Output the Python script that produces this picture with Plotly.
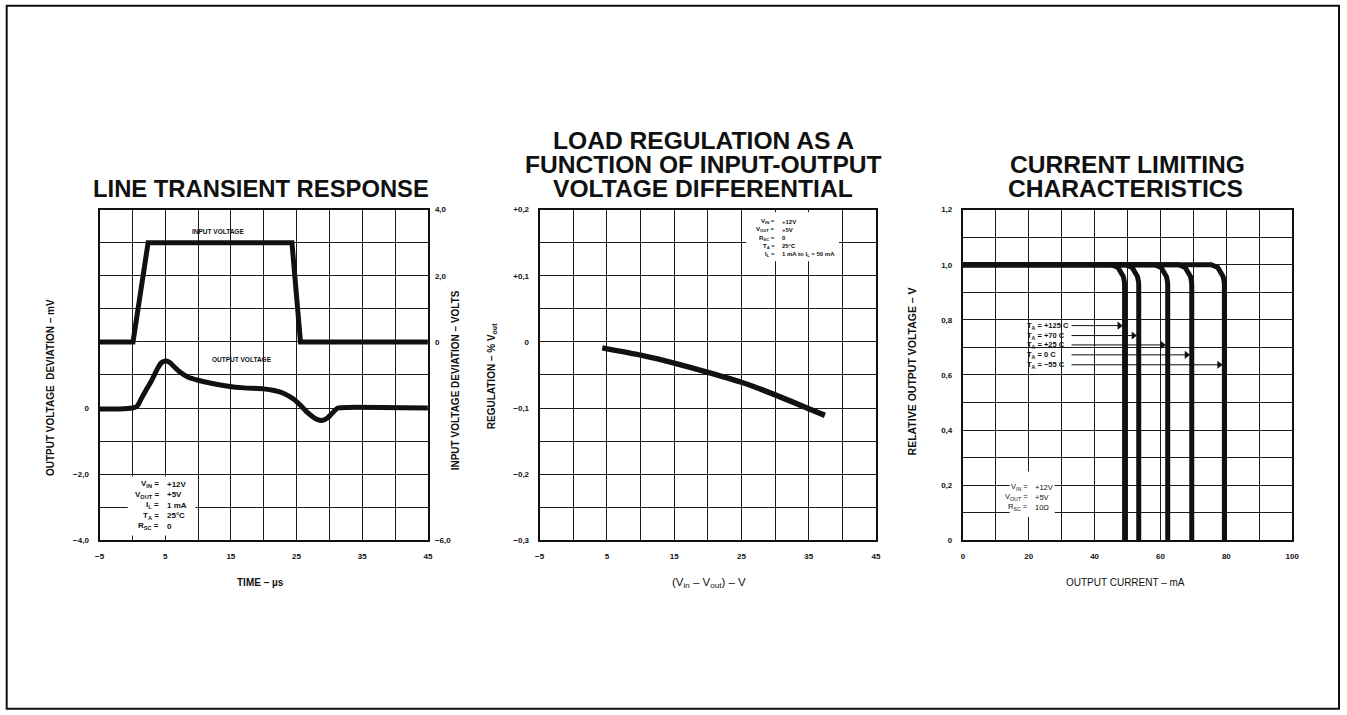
import plotly.graph_objects as go

W, H = 1347, 715

# ---------------- data: panel 1 (line transient response) ----------------
time_input_us = [-5, 0.1, 2.4, 24.3, 25.6, 45]
input_dev_v = [0, 0, 3.0, 3.0, 0, 0]
time_output_us = [-5, -2, 0, 0.7, 1.4, 2.1, 2.9, 3.9, 4.5, 5.2, 5.8, 6.4, 7.3, 8.5, 10, 12,
                  14.6, 17, 20, 21.6, 23, 24.7, 26, 26.7, 27.5, 28.2, 29, 29.7, 30.3, 31.3, 33, 45]
output_dev_mv = [-0.03, -0.03, 0.0, 0.05, 0.3, 0.55, 0.82, 1.22, 1.38, 1.42, 1.36, 1.24, 1.08, 0.93,
                 0.84, 0.75, 0.66, 0.61, 0.58, 0.53, 0.45, 0.25, 0.0, -0.14, -0.27, -0.35, -0.37,
                 -0.3, -0.18, 0.0, 0.02, 0.0]
p1_x_grid = [-5, 0, 5, 10, 15, 20, 25, 30, 35, 40, 45]
p1_x_vals = [-5, 5, 15, 25, 35, 45]
p1_x_text = ["−5", "5", "15", "25", "35", "45"]
p1_yl_grid = [-4, -3, -2, -1, 0, 1, 2, 3, 4, 5, 6]
p1_yl_vals = [-4, -2, 0]
p1_yl_text = ["−4,0", "−2,0", "0"]
p1_yr_vals = [4, 2, 0, -6]
p1_yr_text = ["4,0", "2,0", "0", "−6,0"]
p1_param_names = ["V<sub>IN</sub> =", "V<sub>OUT</sub> =", "I<sub>L</sub> =", "T<sub>A</sub> =", "R<sub>SC</sub> ="]
p1_param_vals = ["+12V", "+5V", "1 mA", "25°C", "0"]

# ---------------- data: panel 2 (load regulation) ----------------
vdiff_v = [4.3, 10, 15, 20, 25, 30, 35, 37.4]
regulation_pct = [-0.009, -0.020, -0.032, -0.046, -0.061, -0.080, -0.101, -0.111]
p2_x_grid = p1_x_grid
p2_x_vals = p1_x_vals
p2_x_text = p1_x_text
p2_y_grid = [-0.3, -0.25, -0.2, -0.15, -0.1, -0.05, 0, 0.05, 0.1, 0.15, 0.2]
p2_y_vals = [-0.3, -0.2, -0.1, 0, 0.1, 0.2]
p2_y_text = ["−0,3", "−0,2", "−0,1", "0", "+0,1", "+0,2"]
p2_param_names = ["V<sub>IN</sub> =", "V<sub>OUT</sub> =", "R<sub>SC</sub> =", "T<sub>A</sub> =", "I<sub>L</sub> ="]
p2_param_vals = ["+12V", "+5V", "0", "25°C", "1 mA to I<sub>L</sub> = 50 mA"]

# ---------------- data: panel 3 (current limiting) ----------------
i_p125 = [0, 45.1, 47.1, 48.16, 48.72, 49.04, 49.1, 49.1]
i_p70 = [0, 49.4, 51.4, 52.46, 53.02, 53.34, 53.4, 53.4]
i_p25 = [0, 58.2, 60.2, 61.26, 61.82, 62.14, 62.2, 62.2]
i_0 = [0, 65.5, 67.5, 68.56, 69.12, 69.44, 69.5, 69.5]
i_m55 = [0, 75.4, 77.4, 78.46, 79.02, 79.34, 79.4, 79.4]
v_rel = [1.0, 1.0, 0.99, 0.973, 0.957, 0.938, 0.925, 0.0]
temp_labels = ["+125 C", "+70 C", "+25 C", "0 C", "−55 C"]
label_v = [0.779, 0.743, 0.709, 0.673, 0.637]
arrow_tip_ma = [48.4, 52.7, 61.5, 68.8, 78.7]
arrow_tail_ma = [33, 33, 33, 33, 33]
label_x_ma = 18.8
p3_x_grid = [0, 10, 20, 30, 40, 50, 60, 70, 80, 90, 100]
p3_x_vals = [0, 20, 40, 60, 80, 100]
p3_x_text = ["0", "20", "40", "60", "80", "100"]
p3_y_grid = [0, 0.1, 0.2, 0.3, 0.4, 0.5, 0.6, 0.7, 0.8, 0.9, 1.0, 1.1, 1.2]
p3_y_vals = [0, 0.2, 0.4, 0.6, 0.8, 1.0, 1.2]
p3_y_text = ["0", "0,2", "0,4", "0,6", "0,8", "1,0", "1,2"]
p3_param_names = ["V<sub>IN</sub> =", "V<sub>OUT</sub> =", "R<sub>SC</sub> ="]
p3_param_vals = ["+12V", "+5V", "10Ω"]

FONT = "Liberation Sans, Arial, sans-serif"
INK = "#111111"
GRID = "#1c1c1c"

# small correction for the way the page is photographed (observed ~0.99 scale, ~3 px offset)
SX, OX = 0.993, 3.3
SY, OY = 0.988, 3.3


def px(x):
    return min(max(((x - OX) / SX) / W, 0.0), 1.0)


def py(y):
    return min(max(1 - ((y - OY) / SY) / H, 0.0), 1.0)


fig = go.Figure()

# panel 1 traces
fig.add_trace(go.Scatter(x=time_input_us, y=input_dev_v, xaxis="x", yaxis="y2", mode="lines",
                         line=dict(color=INK, width=5), showlegend=False))
fig.add_trace(go.Scatter(x=time_output_us, y=output_dev_mv, xaxis="x", yaxis="y", mode="lines",
                         line=dict(color=INK, width=5, shape="spline", smoothing=0.6), showlegend=False))
# panel 2 trace
fig.add_trace(go.Scatter(x=vdiff_v, y=regulation_pct, xaxis="x2", yaxis="y3", mode="lines",
                         line=dict(color=INK, width=5.5, shape="spline", smoothing=0.5), showlegend=False))
# panel 3 traces
for cx in [i_p125, i_p70, i_p25, i_0, i_m55]:
    fig.add_trace(go.Scatter(x=cx, y=v_rel, xaxis="x3", yaxis="y4", mode="lines",
                             line=dict(color=INK, width=5), showlegend=False))
for tail, tip, yv in zip(arrow_tail_ma, arrow_tip_ma, label_v):
    fig.add_trace(go.Scatter(x=[tail, tip], y=[yv, yv], xaxis="x3", yaxis="y4", mode="lines",
                             line=dict(color=INK, width=1), showlegend=False))
fig.add_trace(go.Scatter(x=[t - 0.9 for t in arrow_tip_ma], y=label_v, xaxis="x3", yaxis="y4",
                         mode="markers", marker=dict(symbol="triangle-right", size=7, color=INK),
                         showlegend=False))


def axis(domain, grid, vals, texts, rng, anchor):
    return dict(domain=domain, range=rng, anchor=anchor, tickmode="array", tickvals=vals,
                ticktext=texts, showgrid=True, gridcolor=GRID, gridwidth=1.3, zeroline=False,
                minor=dict(tickmode="array", tickvals=grid, showgrid=True, gridcolor=GRID,
                           gridwidth=1.3, ticks=""),
                showline=True, mirror=True, linecolor=INK, linewidth=2, ticks="", ticklabelstandoff=7,
                tickfont=dict(family=FONT, size=8, color=INK, weight="bold"), fixedrange=True)


ydom = [py(540), py(209)]
layout = dict(
    width=W, height=H, margin=dict(l=0, r=0, t=0, b=0), paper_bgcolor="white", plot_bgcolor="white",
    showlegend=False,
    xaxis=axis([px(98), px(427)], p1_x_grid, p1_x_vals, p1_x_text, [-5, 45], "y"),
    yaxis=axis(ydom, p1_yl_grid, p1_yl_vals, p1_yl_text, [-4, 6], "x"),
    yaxis2=dict(overlaying="y", side="right", range=[-6, 4], anchor="x", tickmode="array",
                tickvals=p1_yr_vals, ticktext=p1_yr_text, showgrid=False, zeroline=False,
                showline=False, ticks="", ticklabelstandoff=6,
                tickfont=dict(family=FONT, size=8, color=INK, weight="bold"), fixedrange=True),
    xaxis2=axis([px(539), px(876)], p2_x_grid, p2_x_vals, p2_x_text, [-5, 45], "y3"),
    yaxis3=axis(ydom, p2_y_grid, p2_y_vals, p2_y_text, [-0.3, 0.2], "x2"),
    xaxis3=axis([px(963), px(1293)], p3_x_grid, p3_x_vals, p3_x_text, [0, 100], "y4"),
    yaxis4=axis(ydom, p3_y_grid, p3_y_vals, p3_y_text, [0, 1.2], "x3"),
)
fig.update_layout(**layout)

shapes = []
# outer frame
shapes.append(dict(type="rect", xref="paper", yref="paper", x0=px(5), x1=1346 / W,
                   y0=1.2 / H, y1=py(5),
                   line=dict(color=INK, width=2), fillcolor="rgba(0,0,0,0)", layer="above"))
# white boxes behind parameter blocks
shapes.append(dict(type="rect", xref="x", yref="y", x0=-0.7, x1=9.6, y0=-3.85, y1=-2.07,
                   line=dict(width=0), fillcolor="white", layer="between"))
shapes.append(dict(type="rect", xref="x2", yref="y3", x0=25.7, x1=39.5, y0=0.122, y1=0.196,
                   line=dict(width=0), fillcolor="white", layer="between"))
shapes.append(dict(type="rect", xref="x3", yref="y4", x0=14.2, x1=27.9, y0=0.085, y1=0.25,
                   line=dict(width=0), fillcolor="white", layer="between"))
fig.update_layout(shapes=shapes)

ann = []


def text(x, y, s, size, xanchor="center", yanchor="middle", angle=0, weight="bold", align="center"):
    ann.append(dict(x=px(x), y=py(y), xref="paper", yref="paper", text=s, showarrow=False,
                    xanchor=xanchor, yanchor=yanchor, textangle=angle, align=align,
                    font=dict(family=FONT, size=size, color=INK, weight=weight)))


# titles
text(260, 188, "LINE TRANSIENT RESPONSE", 23.8)
text(703, 140, "LOAD REGULATION AS A", 24.6)
text(703, 164, "FUNCTION OF INPUT-OUTPUT", 24.6)
text(703, 188, "VOLTAGE DIFFERENTIAL", 24.6)
text(1128, 164, "CURRENT LIMITING", 24.6)
text(1126, 188, "CHARACTERISTICS", 24.6)

# axis titles
text(259, 582, "TIME – µs", 10)
text(709, 583, "(V<sub>in</sub> – V<sub>out</sub>) – V", 11.5, weight="normal")
text(1126, 582, "OUTPUT CURRENT – mA", 10, weight="normal")
text(49, 387, "OUTPUT VOLTAGE\u00a0\u00a0DEVIATION – mV", 10, angle=-90)
text(455, 380, "INPUT VOLTAGE DEVIATION – VOLTS", 10, angle=-90)
text(492, 376, "REGULATION – % V<sub>out</sub>", 10, angle=-90)
text(913, 371, "RELATIVE OUTPUT VOLTAGE – V", 10.5, angle=-90)

# curve labels panel 1
text(217, 231, "INPUT VOLTAGE", 6.5)
text(241, 359, "OUTPUT VOLTAGE", 6.5)

# parameter blocks
for i, (n, v) in enumerate(zip(p1_param_names, p1_param_vals)):
    yy = 484 + i * 10.5
    text(160, yy, n, 8, xanchor="right")
    text(164, yy, v, 8, xanchor="left")
for i, (n, v) in enumerate(zip(p2_param_names, p2_param_vals)):
    yy = 221 + i * 8.3
    text(777, yy, n, 6, xanchor="right")
    text(780, yy, v, 6, xanchor="left")
for i, (n, v) in enumerate(zip(p3_param_names, p3_param_vals)):
    yy = 487 + i * 10
    text(1030, yy, n, 7.5, xanchor="right", weight="normal")
    text(1033, yy, v, 7.5, xanchor="left", weight="normal")

# temperature labels panel 3
for lab, yv in zip(temp_labels, label_v):
    ann.append(dict(x=label_x_ma, y=yv, xref="x3", yref="y4", text="T<sub>A</sub> = " + lab,
                    showarrow=False, xanchor="left", yanchor="middle",
                    font=dict(family=FONT, size=7.5, color=INK, weight="bold")))

fig.update_layout(annotations=ann)
fig.write_html(
    "out.html",
    config={"displayModeBar": False},
    post_script=(
        "document.documentElement.style.margin='0';document.documentElement.style.padding='0';"
        "document.documentElement.style.overflow='hidden';"
        "document.body.style.margin='0';document.body.style.padding='0';"
        "document.body.style.overflow='hidden';"
        "var gd=document.getElementById('{plot_id}');"
        "gd.style.position='fixed';gd.style.left='0px';gd.style.top='0px';"
    ),
)
